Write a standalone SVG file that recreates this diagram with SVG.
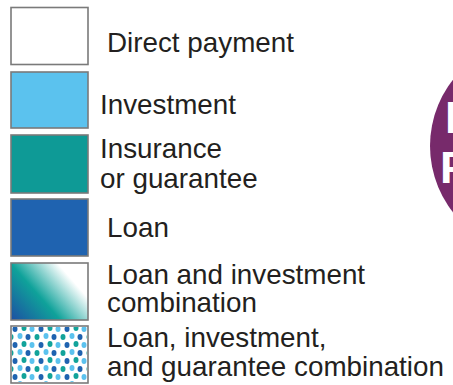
<svg xmlns="http://www.w3.org/2000/svg" width="453" height="385" viewBox="0 0 453 385">
<style>
.sw{stroke:#7a7a7a;stroke-width:1.6}
.lbl{font-family:"Liberation Sans",Arial,Helvetica,sans-serif;font-size:27.8px;fill:#231f20}
.big{font-family:"Liberation Sans",Arial,Helvetica,sans-serif;font-size:45px;font-weight:bold;fill:#ffffff}
</style>
<defs>
<linearGradient id="combo" x1="0" y1="1" x2="1" y2="0.35">
<stop offset="0" stop-color="#1d4fa3"/>
<stop offset="0.45" stop-color="#0fa29a"/>
<stop offset="0.88" stop-color="#ffffff"/>
</linearGradient>
<pattern id="dots" x="11" y="325" width="26" height="16" patternUnits="userSpaceOnUse">
<ellipse cx="4" cy="4" rx="2.5" ry="3" fill="#1f63b0"/>
<ellipse cx="13" cy="3" rx="2.5" ry="3" fill="#12a39a"/>
<ellipse cx="21" cy="4" rx="2.5" ry="3" fill="#5bc2ee"/>
<ellipse cx="0" cy="12" rx="2.5" ry="3" fill="#12a39a"/>
<ellipse cx="26" cy="12" rx="2.5" ry="3" fill="#12a39a"/>
<ellipse cx="9" cy="11" rx="2.5" ry="3" fill="#5bc2ee"/>
<ellipse cx="17" cy="12" rx="2.5" ry="3" fill="#1f63b0"/>
</pattern>
</defs>
<rect width="453" height="385" fill="#ffffff"/>
<g id="seal">
<circle cx="537" cy="146" r="107" fill="#772a6b"/>
<text class="big" x="445" y="133">I</text>
<text class="big" x="440" y="183">F</text>
</g>
<g id="direct-payment">
<rect class="sw" x="11" y="7.5" width="77" height="57" fill="#ffffff"/>
<text class="lbl" x="107" y="52">Direct payment</text>
</g>
<g id="investment">
<rect class="sw" x="11" y="72" width="77" height="56" fill="#5bc2ee"/>
<text class="lbl" x="100" y="114">Investment</text>
</g>
<g id="insurance">
<rect class="sw" x="11" y="135" width="77" height="58" fill="#0e9a96"/>
<text class="lbl" x="100" y="158">Insurance</text>
<text class="lbl" x="100" y="188">or guarantee</text>
</g>
<g id="loan">
<rect class="sw" x="11" y="199" width="77" height="57" fill="#1f63b0"/>
<text class="lbl" x="107" y="237">Loan</text>
</g>
<g id="loan-investment">
<rect class="sw" x="11" y="263" width="77" height="57" fill="url(#combo)"/>
<text class="lbl" x="107" y="284">Loan and investment</text>
<text class="lbl" x="107" y="312">combination</text>
</g>
<g id="loan-investment-guarantee">
<rect class="sw" x="11" y="326" width="77" height="57" fill="#ffffff"/>
<rect x="12" y="327" width="75" height="55" fill="url(#dots)"/>
<text class="lbl" x="107" y="347">Loan, investment,</text>
<text class="lbl" x="107" y="376">and guarantee combination</text>
</g>
<g id="connectors"/>
</svg>
